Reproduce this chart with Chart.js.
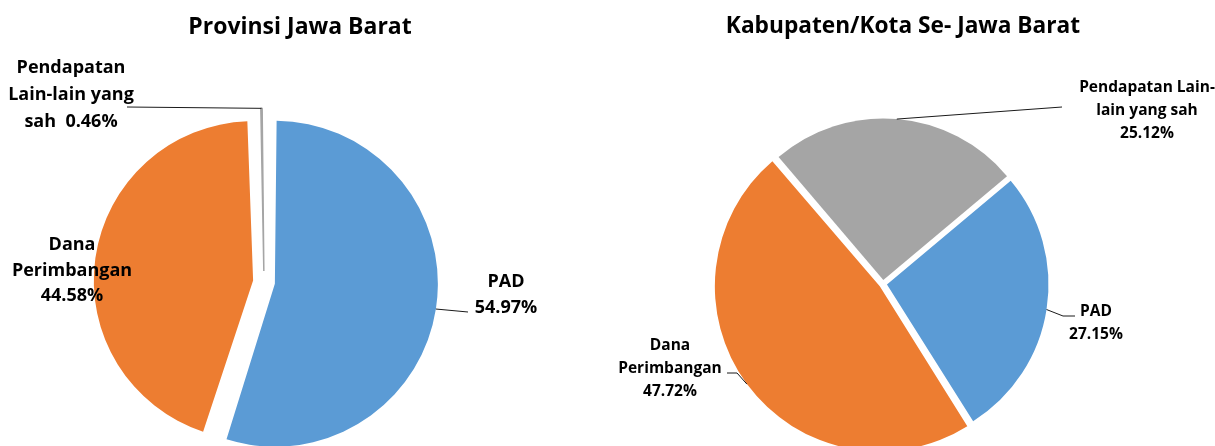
<!DOCTYPE html>
<html>
<head>
<meta charset="utf-8">
<script src="https://cdn.jsdelivr.net/npm/chart.js@4.4.1/dist/chart.umd.min.js"></script>
<style>
  html, body { margin: 0; padding: 0; background: #fff; overflow: hidden; }
  body { width: 1215px; height: 446px; position: relative; }
  .wrap { position: absolute; top: 0; height: 446px; }
  #leftWrap { left: 0; width: 551px; }
  #rightWrap { left: 551px; width: 664px; }
</style>
</head>
<body>
<div class="wrap" id="leftWrap"><canvas id="leftChart" width="551" height="446"></canvas></div>
<div class="wrap" id="rightWrap"><canvas id="rightChart" width="664" height="446"></canvas></div>
<script>
// ---- data ----
const categories = ['PAD', 'Dana Perimbangan', 'Pendapatan Lain-lain yang sah'];
const provinsiValues = [54.97, 44.58, 0.46];
const kabKotaValues = [27.15, 47.72, 25.12];
const colors = ['#5B9BD5', '#ED7D31', '#A5A5A5'];
const chartTitles = ['Provinsi Jawa Barat', 'Kabupaten/Kota Se- Jawa Barat'];
// wrapped category names as they appear in each chart's data labels
const provinsiLabelLines = [['PAD'], ['Dana', 'Perimbangan'], ['Pendapatan', 'Lain-lain yang', 'sah ']];
const kabKotaLabelLines = [['PAD'], ['Dana', 'Perimbangan'], ['Pendapatan Lain-', 'lain yang sah']];

const pct = v => v.toFixed(2) + '%';

const labelPlugin = {
  id: 'sliceLabels',
  afterDatasetsDraw(chart, args, opts) {
    const ctx = chart.ctx;
    const meta = chart.getDatasetMeta(0);
    ctx.save();
    // title
    ctx.fillStyle = '#000';
    ctx.textAlign = 'center';
    ctx.textBaseline = 'middle';
    ctx.font = opts.titleFont;
    ctx.fillText(opts.title, opts.titleX, opts.titleY);
    // slice labels
    ctx.font = opts.labelFont;
    opts.items.forEach(it => {
      const arc = meta.data[it.index];
      const p = arc.getProps(['x', 'y', 'startAngle', 'endAngle', 'outerRadius', 'circumference'], true);
      const mid = (p.startAngle + p.endAngle) / 2;
      const off = (arc.options.offset || 0) / 4;
      const fix = 1 - Math.sin(Math.min(Math.PI, p.circumference || 0));
      const r = p.outerRadius + off * fix;
      const cx = p.x + Math.cos(mid) * off, cy = p.y + Math.sin(mid) * off;
      const ex = cx + Math.cos(mid) * r, ey = cy + Math.sin(mid) * r;
      if (it.line) {
        ctx.beginPath();
        ctx.strokeStyle = '#1a1a1a';
        ctx.lineWidth = 1;
        ctx.moveTo(ex, ey);
        it.line.forEach(pt => ctx.lineTo(pt[0], pt[1]));
        ctx.stroke();
      }
      const lines = it.names.slice();
      const value = chart.data.datasets[0].data[it.index];
      if (it.inline) lines[lines.length - 1] += ' ' + pct(value);
      else lines.push(pct(value));
      lines.forEach((t, k) => ctx.fillText(t, it.x, it.y + k * it.lh));
    });
    ctx.restore();
  }
};

function makeChart(id, values, rotation, radius, offset, padding, borderWidths, plug) {
  return new Chart(document.getElementById(id), {
    type: 'pie',
    data: {
      labels: categories,
      datasets: [{
        data: values,
        backgroundColor: colors,
        borderColor: colors,
        borderWidth: borderWidths,
        offset: offset,
        hoverOffset: 0
      }]
    },
    options: {
      responsive: false,
      animation: false,
      events: [],
      rotation: rotation,
      radius: radius,
      layout: { padding: padding },
      plugins: {
        legend: { display: false },
        tooltip: { enabled: false },
        title: { display: false },
        sliceLabels: plug
      }
    },
    plugins: [labelPlugin]
  });
}

makeChart('leftChart', provinsiValues, 0, 152, 44,
  { top: 118, bottom: 0, left: 0, right: 23 }, [0, 0, 1.5], {
  title: chartTitles[0], titleX: 300, titleY: 27,
  titleFont: 'bold 23px "Open Sans"',
  labelFont: 'bold 18px "Open Sans"',
  items: [
    { index: 2, names: provinsiLabelLines[2], inline: true, x: 71, y: 68, lh: 27, line: [[127, 107]] },
    { index: 1, names: provinsiLabelLines[1], x: 72, y: 245, lh: 25.5 },
    { index: 0, names: provinsiLabelLines[0], x: 506, y: 282, lh: 26, line: [[468, 312]] }
  ]
});

makeChart('rightChart', kabKotaValues, 50, 161.5, 16,
  { top: 122, bottom: 0, left: 0, right: 0 }, 0, {
  title: chartTitles[1], titleX: 352, titleY: 27,
  titleFont: 'bold 22.7px "Open Sans"',
  labelFont: 'bold 15.5px "Open Sans"',
  items: [
    { index: 2, names: kabKotaLabelLines[2], x: 596, y: 88, lh: 23, line: [[511, 107]] },
    { index: 0, names: kabKotaLabelLines[0], x: 545, y: 312, lh: 23, line: [[512, 316], [524, 316]] },
    { index: 1, names: kabKotaLabelLines[1], x: 119, y: 346, lh: 23, line: [[186, 373], [176, 373]] }
  ]
});
</script>
</body>
</html>
